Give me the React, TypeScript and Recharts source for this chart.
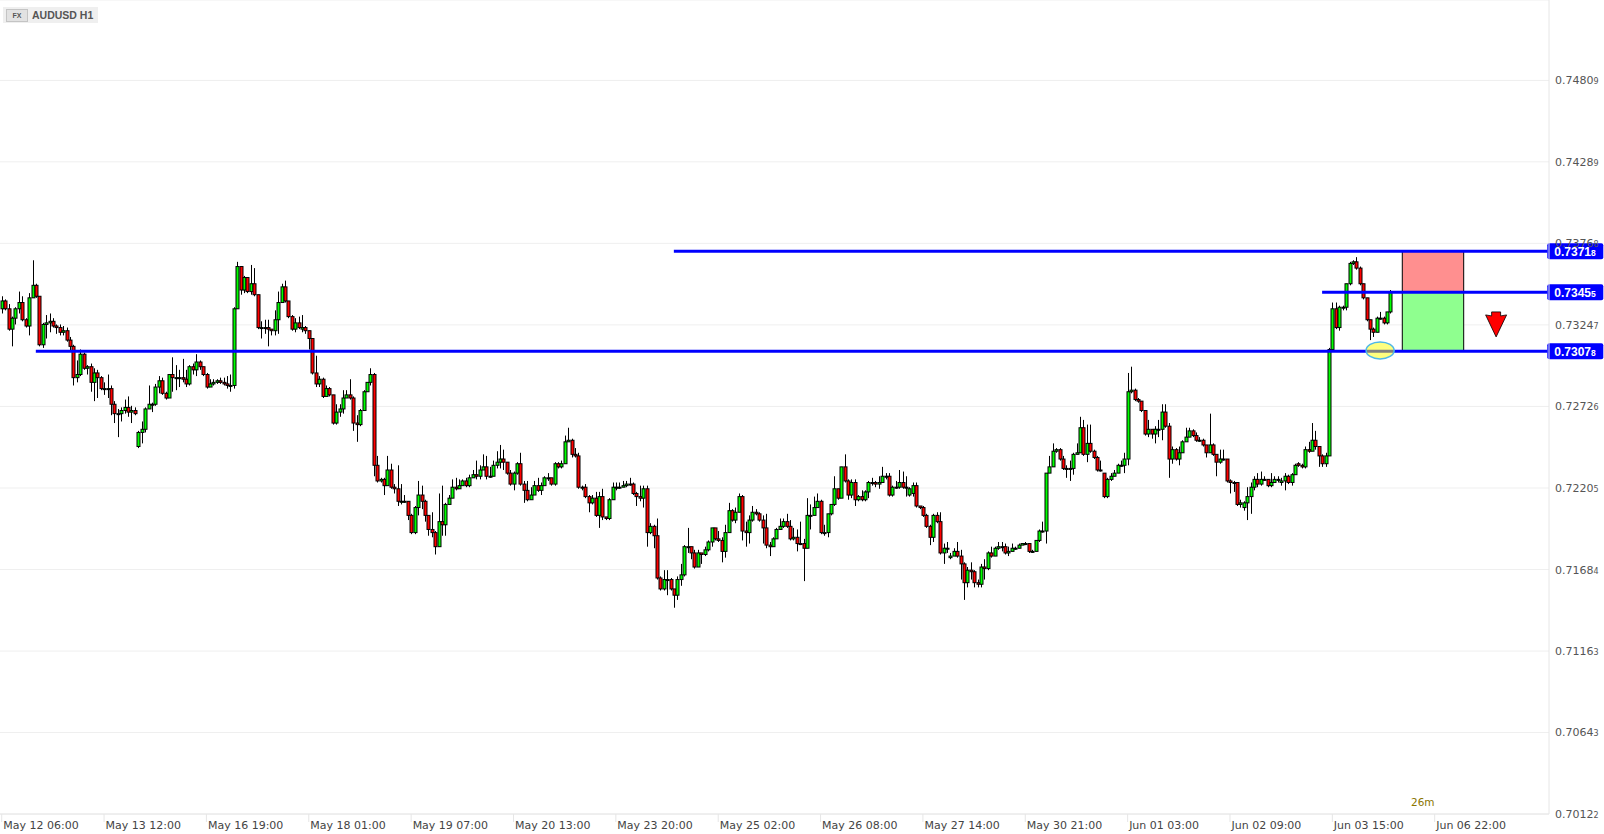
import {
  ComposedChart,
  Bar,
  XAxis,
  YAxis,
  CartesianGrid,
  ReferenceLine,
  ReferenceArea,
  ReferenceDot,
} from "recharts";

// prices are kept as pips above 0.7000
const BASE = 0.7;
const PIP = 0.0001;

// hourly candles, [open, high, low, close] in pips
const ohlcPips: number[][] = [
  [335,343,332,340],[340,341,334,335],[335,338,321,322],[322,330,311,329],[329,336,325,335],
  [335,346,332,339],[339,343,327,328],[328,329,323,324],[324,345,318,342],[342,366,342,350],
  [350,351,342,343],[343,343,311,312],[312,326,310,325],[325,331,316,326],[326,332,320,327],
  [327,329,323,324],[324,325,319,323],[323,325,318,320],[320,324,318,321],[321,323,314,315],
  [315,317,308,311],[311,312,286,291],[291,302,288,293],[293,309,292,306],[306,307,296,297],
  [297,299,293,298],[298,300,282,288],[288,297,276,294],[294,296,278,291],[291,292,283,284],
  [284,288,280,284],[284,293,278,284],[284,286,267,274],[274,276,262,268],[268,271,253,268],
  [268,272,263,270],[270,277,268,272],[272,279,266,269],[269,273,262,270],[270,272,267,268],
  [247,257,246,256],[256,263,249,258],[258,272,256,271],[271,286,271,274],[274,275,269,274],
  [274,287,273,285],[285,292,281,289],[289,291,280,281],[281,282,277,278],[278,293,278,293],
  [293,304,282,291],[291,299,283,291],[291,296,285,291],[291,303,288,290],[290,296,285,287],
  [287,299,286,298],[298,300,293,296],[296,306,292,301],[301,302,296,298],[298,298,292,293],
  [293,294,284,285],[285,290,285,287],[287,290,286,288],[288,290,287,289],[289,291,287,288],
  [288,291,286,287],[287,292,284,286],[286,293,282,286],[286,336,284,335],[335,365,335,362],
  [362,362,344,347],[347,356,345,355],[355,355,345,346],[346,363,344,351],[351,361,343,344],
  [344,344,322,323],[323,327,316,323],[323,328,319,323],[323,328,311,322],[322,322,318,321],
  [321,334,318,328],[328,346,319,339],[339,351,339,349],[349,353,339,340],[340,340,329,330],
  [330,331,321,322],[322,329,320,326],[326,330,322,323],[322,331,320,323],[323,324,319,321],
  [321,321,309,316],[316,316,293,294],[294,305,285,287],[287,292,285,290],[290,291,278,279],
  [279,286,279,284],[284,285,279,280],[280,280,261,262],[262,274,261,269],[269,274,266,271],
  [271,283,268,278],[278,283,278,280],[280,290,277,278],[278,279,257,262],[262,267,250,261],
  [261,271,260,270],[270,283,270,282],[282,288,282,288],[288,297,286,293],[293,294,228,235],
  [235,241,224,225],[225,227,224,226],[226,227,216,222],[222,241,222,232],[232,236,220,221],
  [221,223,217,220],[220,235,209,212],[212,223,210,212],[212,216,211,212],[212,212,200,203],
  [203,204,191,192],[192,209,191,208],[208,225,203,216],[216,222,207,212],[212,213,199,203],
  [203,203,190,194],[194,205,189,192],[192,193,178,183],[183,217,183,199],[199,222,190,197],
  [197,211,190,210],[210,216,210,214],[214,226,214,221],[221,227,219,220],[220,226,220,222],
  [222,226,222,225],[225,227,221,222],[222,229,221,227],[227,232,227,229],[229,238,226,228],
  [228,235,226,232],[232,242,232,234],[234,241,226,228],[228,234,227,228],[228,238,228,235],
  [235,244,233,237],[237,248,233,239],[239,245,232,237],[237,237,229,230],[230,232,222,223],
  [223,231,219,230],[230,237,229,236],[236,243,222,223],[223,225,211,219],[219,225,212,213],
  [213,221,213,216],[216,225,216,222],[222,227,218,219],[219,224,216,222],[222,228,222,227],
  [227,230,225,227],[227,227,222,223],[223,237,222,236],[236,237,233,234],[234,238,233,236],
  [236,254,236,250],[250,259,250,251],[251,252,240,242],[242,246,240,241],[241,243,220,221],
  [221,222,219,221],[221,223,214,215],[215,216,205,211],[211,216,210,214],[214,218,202,203],
  [203,218,195,215],[215,220,200,202],[202,202,200,201],[201,214,200,213],[213,224,213,221],
  [221,224,219,221],[221,224,220,221],[221,225,221,222],[222,225,221,223],[223,227,222,223],
  [223,224,216,217],[217,218,209,215],[215,222,212,214],[214,222,208,220],[220,222,183,192],
  [192,198,191,196],[196,197,182,190],[190,201,162,163],[163,164,155,156],[156,168,155,162],
  [162,168,152,162],[162,163,155,156],[156,156,144,152],[152,164,149,162],[162,172,158,165],
  [165,184,164,183],[183,195,179,183],[183,183,175,179],[179,181,169,170],[170,181,170,179],
  [179,179,172,178],[178,183,177,181],[181,187,180,186],[186,195,183,195],[195,195,187,188],
  [188,193,186,187],[187,189,173,180],[180,197,176,192],[192,211,192,206],[206,207,199,200],
  [200,208,198,205],[205,217,205,215],[215,216,187,193],[193,199,183,192],[192,203,185,200],
  [200,209,199,205],[205,207,203,204],[204,205,199,200],[200,203,185,195],[195,204,182,184],
  [184,186,177,183],[183,189,183,188],[188,195,188,194],[194,201,194,196],[196,201,195,199],
  [199,204,195,196],[196,200,187,188],[188,195,187,189],[189,194,180,185],[185,199,184,185],
  [185,188,161,182],[182,214,182,203],[203,210,194,203],[203,215,203,208],[208,217,208,212],
  [212,213,191,192],[192,197,190,192],[192,204,189,204],[204,210,203,210],[210,228,209,220],
  [220,220,213,214],[214,234,214,234],[234,242,224,225],[225,226,213,216],[216,226,214,224],
  [224,226,209,213],[213,216,212,215],[215,219,212,213],[213,219,212,218],[218,225,214,224],
  [224,227,222,224],[224,225,221,223],[223,228,220,224],[224,234,224,228],[228,230,226,228],
  [228,230,215,216],[216,222,215,221],[221,225,220,221],[221,232,220,224],[224,231,220,221],
  [221,228,215,221],[216,221,215,220],[217,224,215,222],[222,224,208,209],[209,209,207,208],
  [208,209,202,203],[203,204,195,196],[196,197,184,189],[189,204,186,203],[203,205,198,199],
  [199,205,178,179],[179,185,172,182],[182,186,179,182],[176,179,175,177],[177,182,177,180],
  [180,186,176,177],[177,181,162,172],[172,173,149,160],[160,170,157,168],[168,173,162,167],
  [167,168,157,160],[160,162,157,159],[159,172,157,170],[170,175,162,169],[169,180,168,179],
  [179,183,176,177],[177,183,177,182],[182,186,181,183],[183,186,180,183],[183,185,178,179],
  [179,183,177,180],[180,185,180,182],[182,183,181,182],[182,185,182,184],[184,185,184,185],
  [185,186,184,185],[185,185,179,180],[180,181,179,180],[180,187,180,187],[187,194,186,193],
  [193,199,192,193],[193,230,185,230],[230,241,230,234],[234,249,234,244],[244,246,243,245],
  [245,246,238,239],[239,241,232,233],[233,235,227,233],[233,238,225,233],[233,243,229,242],
  [242,249,242,243],[243,266,243,259],[259,264,241,242],[242,261,237,249],[249,261,243,244],
  [244,245,239,240],[240,241,231,232],[232,238,231,232],[230,230,214,215],[215,227,214,226],
  [226,230,225,228],[228,232,228,230],[230,236,230,235],[235,238,234,235],[235,243,230,239],
  [239,294,235,282],[282,298,281,283],[283,284,276,277],[277,278,275,276],[276,276,269,270],
  [270,270,254,255],[255,264,253,258],[258,258,252,255],[255,260,249,258],[258,264,253,258],
  [258,274,251,269],[269,274,259,260],[260,262,227,239],[239,247,236,245],[245,246,238,239],
  [239,247,235,243],[243,251,243,250],[250,259,250,253],[253,259,253,257],[257,258,253,254],
  [254,256,250,251],[251,253,250,251],[251,252,247,248],[248,248,240,243],[243,268,243,248],
  [248,249,241,242],[242,242,228,237],[237,245,236,239],[239,245,238,239],[239,239,224,225],
  [225,226,217,224],[224,225,218,224],[224,224,209,210],[210,213,208,211],[208,212,206,211],
  [211,221,200,215],[215,224,204,221],[221,228,219,226],[226,230,221,223],[223,231,222,226],
  [226,228,225,226],[226,226,221,222],[222,230,221,224],[224,228,224,226],[226,228,224,226],
  [224,227,222,225],[225,230,219,228],[228,229,223,224],[224,230,222,229],[229,236,229,235],
  [236,237,234,235],[235,236,233,234],[234,247,233,245],[245,250,243,244],[244,262,244,251],
  [251,257,245,247],[247,247,234,241],[241,242,234,236],[236,243,234,241],[241,310,241,309],
  [309,339,309,335],[335,339,322,323],[323,337,321,336],[336,337,334,336],[336,351,334,351],
  [351,365,350,364],[364,366,363,365],[365,368,360,361],[361,362,350,351],[351,351,341,342],
  [342,342,327,328],[328,328,315,322],[322,323,317,320],[320,330,320,329],[329,333,328,329],
  [329,330,325,326],[326,333,325,333],[333,347,332,346],
];

// candle slots on the time axis, the tail is empty future space
const slotCount = 454;
const xTickSlots = [0, 30, 60, 90, 120, 150, 180, 210, 240, 270, 300, 330, 360, 390, 420];
const xTickLabels = [
  "May 12 06:00", "May 13 12:00", "May 16 19:00", "May 18 01:00", "May 19 07:00",
  "May 20 13:00", "May 23 20:00", "May 25 02:00", "May 26 08:00", "May 27 14:00",
  "May 30 21:00", "Jun 01 03:00", "Jun 02 09:00", "Jun 03 15:00", "Jun 06 22:00",
];
const yTicks = [0.70122, 0.70643, 0.71163, 0.71684, 0.72205, 0.72726, 0.73247, 0.73768, 0.74289, 0.74809];
const yDomain = [0.70122, 0.75323];

// drawn levels: price and the slot where the line starts
const levelPrices = [0.73718, 0.73455, 0.73078];
const levelStarts = [197, 387, 10];

// trade box (stop / entry / target) and markers
const boxSlots = [411, 428];
const arrowSlot = 438;
const arrowPrice = 0.73247;
const circleSlot = 404;
const circlePrice = 0.73084;

const rows = Array.from({ length: slotCount }, (_, i) => {
  const c = ohlcPips[i];
  if (!c) return { i, range: null };
  const [o, h, l, cl] = c.map((v) => +(BASE + v * PIP).toFixed(5));
  return { i, o, h: Math.max(h, o, cl), l: Math.min(l, o, cl), c: cl, range: [Math.min(l, o, cl), Math.max(h, o, cl)] };
});

const axisFont = "'DejaVu Sans', Verdana, sans-serif";

function Candle(props: any) {
  const { x, y, width, height, payload } = props;
  if (!payload || payload.o == null) return null;
  const { o, h, l, c } = payload;
  const top = Math.min(y, y + height);
  const bot = Math.max(y, y + height);
  const span = h - l;
  const py = (v: number) => (span > 0 ? top + ((h - v) / span) * (bot - top) : top);
  const cx = Math.round(x + width / 2) + 0.5;
  const bTop = py(Math.max(o, c));
  const bBot = py(Math.min(o, c));
  return (
    <g>
      <line x1={cx} x2={cx} y1={top} y2={bot} stroke="#000" strokeWidth={1} />
      <rect
        x={cx - 1.5}
        y={bTop}
        width={3}
        height={Math.max(bBot - bTop, 1)}
        fill={c >= o ? "#00ff00" : "#ff0000"}
        stroke="#000"
        strokeWidth={1}
      />
    </g>
  );
}

function XTick(props: any) {
  const { x, y, payload } = props;
  const k = xTickSlots.indexOf(payload.value);
  if (k < 0) return null;
  return (
    <g>
      <line x1={x} x2={x} y1={y} y2={y + 8} stroke="#e6e6e6" />
      <text x={x + 1.5} y={y + 14.5} fontSize={11} fontFamily={axisFont} fill="#444">
        {xTickLabels[k]}
      </text>
    </g>
  );
}

function YTick(props: any) {
  const { x, y, payload } = props;
  const s = Number(payload.value).toFixed(5);
  return (
    <text x={x + 6} y={y + 4} fontSize={11} fontFamily={axisFont} fill="#555">
      <tspan>{s.slice(0, 6)}</tspan>
      <tspan fontSize={8}>{s.slice(6)}</tspan>
    </text>
  );
}

function PriceTag(props: any) {
  const vb = props.viewBox || {};
  const right = vb.x2 != null ? Math.max(vb.x1, vb.x2) : vb.x + vb.width;
  const yy = vb.y1 != null ? vb.y1 : vb.y;
  const s = props.price.toFixed(5);
  return (
    <g>
      <rect x={right} y={yy - 8} width={56} height={16} rx={2} fill="#0000ff" />
      <text x={right + 7} y={yy + 4.5} fontSize={12} fontWeight="bold" fontFamily="'Liberation Sans', Arial, sans-serif" fill="#fff">
        <tspan>{s.slice(0, 6)}</tspan>
        <tspan fontSize={8.5}>{s.slice(6)}</tspan>
      </text>
    </g>
  );
}

function DownArrow(props: any) {
  const { cx, cy } = props;
  const pts = [[-4.5, -13], [4.5, -13], [4.5, -9], [10.5, -10], [0, 12], [-10.5, -10], [-4.5, -9]]
    .map(([dx, dy]) => `${cx + dx},${cy + dy}`)
    .join(" ");
  return <polygon points={pts} fill="#ff0000" stroke="#000" strokeWidth={0.8} />;
}

function Marker(props: any) {
  const { cx, cy } = props;
  return <ellipse cx={cx} cy={cy} rx={14} ry={8.5} fill="rgba(255,255,0,0.5)" stroke="#4fb8e8" strokeWidth={1.5} />;
}

export default function App() {
  const lastSlot = slotCount - 1;
  return (
    <div style={{ position: "absolute", left: 0, top: 0, width: 1604, height: 834, background: "#fff" }}>
      <ComposedChart width={1604} height={834} data={rows} margin={{ top: 0, right: 0, bottom: 0, left: 0 }}>
        <CartesianGrid vertical={false} stroke="#efefef" />
        <XAxis
          dataKey="i"
          type="category"
          ticks={xTickSlots}
          interval={0}
          height={20}
          tickSize={0}
          tickMargin={0}
          tickLine={false}
          axisLine={{ stroke: "#e6e6e6" }}
          tick={<XTick />}
        />
        <YAxis
          orientation="right"
          type="number"
          domain={yDomain}
          ticks={yTicks}
          allowDataOverflow
          interval={0}
          width={55}
          tickSize={0}
          tickMargin={0}
          tickLine={false}
          axisLine={{ stroke: "#e6e6e6" }}
          tick={<YTick />}
        />
        <Bar dataKey="range" shape={<Candle />} isAnimationActive={false} />
        <ReferenceArea
          x1={boxSlots[0]}
          x2={boxSlots[1]}
          y1={levelPrices[1]}
          y2={levelPrices[0]}
          fill="#ff8f8f"
          fillOpacity={1}
          stroke="#000"
          strokeWidth={1}
        />
        <ReferenceArea
          x1={boxSlots[0]}
          x2={boxSlots[1]}
          y1={levelPrices[2]}
          y2={levelPrices[1]}
          fill="#8fff8f"
          fillOpacity={1}
          stroke="#000"
          strokeWidth={1}
        />
        {levelPrices.map((p, k) => (
          <ReferenceLine
            key={p}
            segment={[
              { x: levelStarts[k], y: p },
              { x: lastSlot, y: p },
            ]}
            stroke="#0000ff"
            strokeWidth={3}
            ifOverflow="visible"
            label={<PriceTag price={p} />}
          />
        ))}
        <ReferenceDot x={circleSlot} y={circlePrice} shape={<Marker />} />
        <ReferenceDot x={arrowSlot} y={arrowPrice} shape={<DownArrow />} />
      </ComposedChart>
      <div
        style={{
          position: "absolute",
          left: 3,
          top: 7,
          width: 95,
          height: 16,
          background: "#efefef",
          display: "flex",
          alignItems: "center",
          fontFamily: "'Liberation Sans', Arial, sans-serif",
          fontSize: 10.5,
          fontWeight: "bold",
          color: "#555",
        }}
      >
        <span
          style={{
            marginLeft: 3,
            marginRight: 4,
            width: 20,
            height: 11,
            lineHeight: "11px",
            textAlign: "center",
            fontSize: 7,
            border: "1px solid #c4c4c4",
            background: "#e2e2e2",
          }}
        >
          FX
        </span>
        AUDUSD H1
      </div>
      <div
        style={{
          position: "absolute",
          left: 1411,
          top: 796,
          fontFamily: axisFont,
          fontSize: 10.5,
          color: "#8b7500",
        }}
      >
        26m
      </div>
    </div>
  );
}
